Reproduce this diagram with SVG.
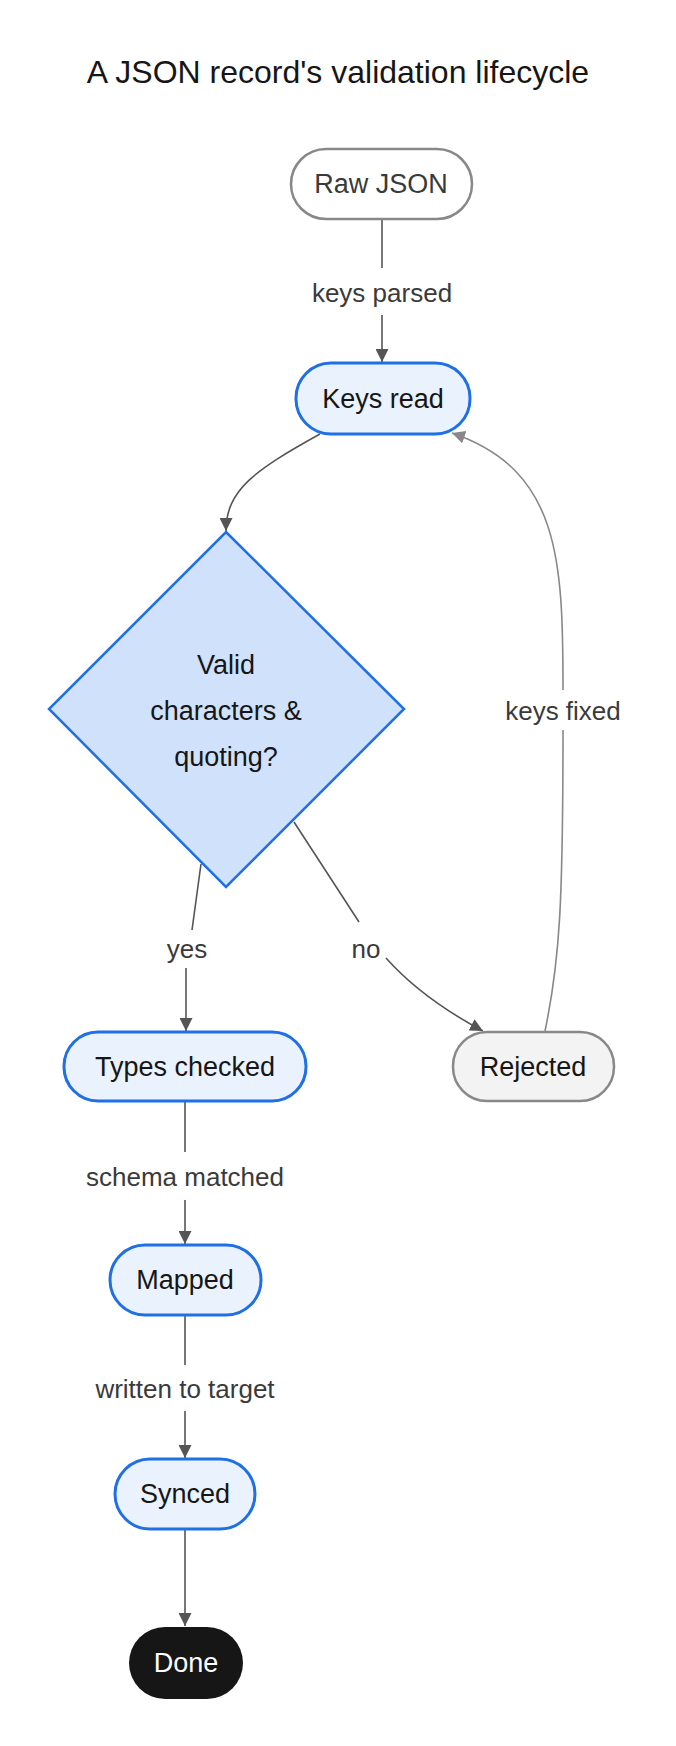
<svg xmlns="http://www.w3.org/2000/svg" width="676" height="1746" viewBox="0 0 676 1746">
<style>
text{font-family:"Liberation Sans",Arial,sans-serif;text-anchor:middle;dominant-baseline:central}
.t{font-size:32px;fill:#161616}
.n{font-size:27px;fill:#161616}
.b{fill:#eaf2fe;stroke:#1f6fe5;stroke-width:3}
.g{fill:#f3f3f3;stroke:#888;stroke-width:2.5}
.e{fill:none;stroke:#555;stroke-width:1.6}
.eg{fill:none;stroke:#888;stroke-width:1.6}
.l{font-size:26px;fill:#3a3a3a}
</style>
<defs>
<marker id="a" viewBox="0 0 10 10" refX="10" refY="5" markerWidth="13" markerHeight="13" markerUnits="userSpaceOnUse" orient="auto"><path d="M0,0L10,5L0,10z" fill="#555"/></marker>
<marker id="ag" viewBox="0 0 10 10" refX="10" refY="5" markerWidth="13" markerHeight="13" markerUnits="userSpaceOnUse" orient="auto"><path d="M0,0L10,5L0,10z" fill="#888"/></marker>
</defs>
<rect width="676" height="1746" fill="#fff"/>
<text class="t" x="338" y="72">A JSON record's validation lifecycle</text>
<g id="connectors">
<path class="e" d="M382,220V268M382,315V362" marker-end="url(#a)"/>
<path class="e" d="M320,434C255,470 226,490 226,531" marker-end="url(#a)"/>
<path class="e" d="M201,864L192,930M186,968V1031" marker-end="url(#a)"/>
<path class="e" d="M294,822L359,922M386,958C410,985 440,1008 483,1031" marker-end="url(#a)"/>
<path class="eg" d="M545,1031C560,960 563,900 563,730M563,690C563,560 560,470 452,433" marker-end="url(#ag)"/>
<path class="e" d="M185,1101V1152M185,1200V1244" marker-end="url(#a)"/>
<path class="e" d="M185,1315V1365M185,1411V1458" marker-end="url(#a)"/>
<path class="e" d="M185,1529V1626" marker-end="url(#a)"/>
<text class="l" x="382" y="293">keys parsed</text>
<text class="l" x="187" y="949">yes</text>
<text class="l" x="366" y="949">no</text>
<text class="l" x="563" y="711">keys fixed</text>
<text class="l" x="185" y="1177">schema matched</text>
<text class="l" x="185" y="1389">written to target</text>
</g>
<g id="raw"><rect x="291" y="149" width="181" height="70" rx="35" fill="#fff" stroke="#888" stroke-width="2.5"/><text class="n" x="381" y="184" style="fill:#3a3a3a">Raw JSON</text></g>
<g id="keys"><rect class="b" x="296" y="363" width="174" height="71" rx="35"/><text class="n" x="383" y="399">Keys read</text></g>
<g id="valid"><polygon points="226,532 404,709 226,887 49,709" fill="#cfe1fb" stroke="#1f6fe5" stroke-width="2.5"/><text class="n" x="226" y="665">Valid</text><text class="n" x="226" y="711">characters &amp;</text><text class="n" x="226" y="757">quoting?</text></g>
<g id="types"><rect class="b" x="64" y="1032" width="242" height="69" rx="34"/><text class="n" x="185" y="1067">Types checked</text></g>
<g id="rejected"><rect class="g" x="453" y="1032" width="161" height="69" rx="34"/><text class="n" x="533" y="1067">Rejected</text></g>
<g id="mapped"><rect class="b" x="110" y="1245" width="151" height="70" rx="35"/><text class="n" x="185" y="1280">Mapped</text></g>
<g id="synced"><rect class="b" x="115" y="1459" width="140" height="70" rx="35"/><text class="n" x="185" y="1494">Synced</text></g>
<g id="done"><rect x="129" y="1627" width="114" height="72" rx="36" fill="#161616"/><text class="n" x="186" y="1663" style="fill:#fff">Done</text></g>
</svg>
